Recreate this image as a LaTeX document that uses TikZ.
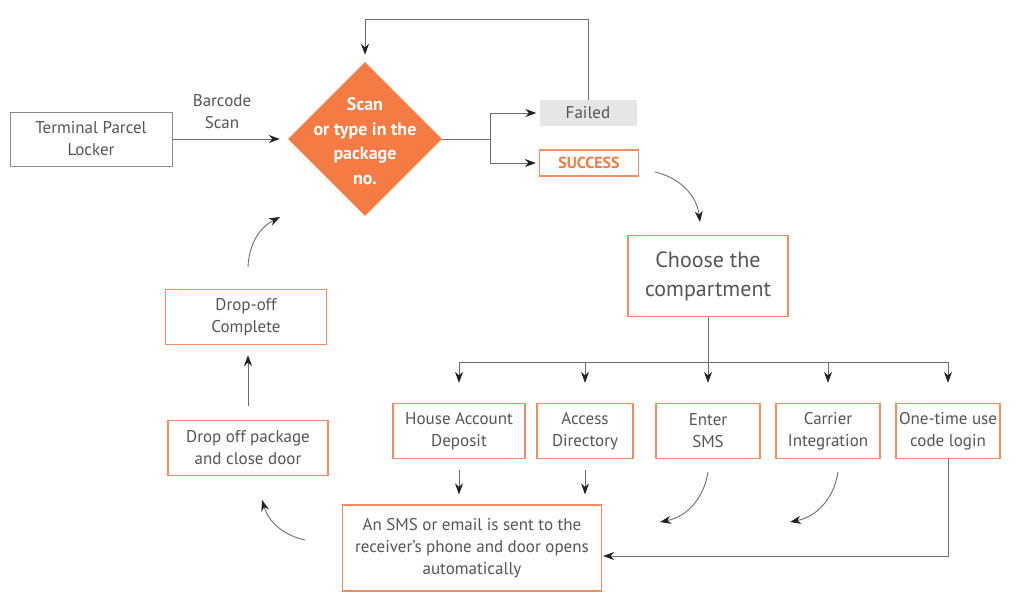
\documentclass[tikz,border=0pt]{standalone}
\usepackage{fontspec}
\setmainfont{PT Sans}
\usepackage{xcolor}
\usepackage{tikz}
\usetikzlibrary{shapes.geometric, arrows.meta, positioning, calc}
\definecolor{LockOrange}{RGB}{244,123,67}
\definecolor{LockBorder}{RGB}{245,140,102}
\definecolor{LockText}{RGB}{85,85,85}
\definecolor{LockLine}{RGB}{110,110,110}
\definecolor{LockGrey}{RGB}{230,230,231}
\definecolor{LockTip}{RGB}{34,34,34}

\tikzset{
  stepbox/.style={draw=LockBorder, line width=1.3pt, align=center, text=LockText,
    inner sep=0pt, font=\fontsize{17}{22}\selectfont},
  flow/.style={draw=LockLine, line width=0.9pt,
    -{Stealth[length=11pt, width=8pt, color=LockTip]}},
  plain/.style={draw=LockLine, line width=0.9pt},
}

\begin{document}
\begin{tikzpicture}[x=1pt,y=-1pt]
  \path[use as bounding box] (0,0) rectangle (1024,614);

  % Locker and scan step
  \node[stepbox, draw=LockLine!80, line width=1pt, minimum width=162, minimum height=54] (locker) at (91,139) {Terminal Parcel\\Locker};
  \node[align=center, text=LockText, font=\fontsize{17}{22}\selectfont] (barcode) at (222,112) {Barcode\\Scan};
  \node[diamond, fill=LockOrange, minimum width=154, minimum height=154, inner sep=0pt] (scan) at (365,139) {};
  \node[align=center, text=white, font=\bfseries\fontsize{18}{24.5}\selectfont] (scantext) at (365,141) {Scan\\or type in the\\package\\no.};
  \draw[flow, shorten >=8pt] (locker) -- (scan);

  % Result of the scan
  \node[fill=LockGrey, text=LockText, inner sep=0pt, minimum width=97, minimum height=26, font=\fontsize{17}{18}\selectfont] (failed) at (588,113) {Failed};
  \node[stepbox, text=LockOrange, minimum width=99, minimum height=26, font=\bfseries\fontsize{16}{18}\selectfont] (success) at (589,163) {SUCCESS};
  \coordinate (fork) at (490,139);
  \draw[plain] (scan.east) -- (fork);
  \draw[flow, shorten >=3pt] (fork) |- (failed.west);
  \draw[flow, shorten >=3pt] (fork) |- (success.west);
  \draw[flow, shorten >=7pt] (failed.north) -- ++(0,-80) -| (scan.north);

  % Compartment choice
  \node[stepbox, minimum width=160, minimum height=81, font=\fontsize{22}{29}\selectfont] (choose) at (708,276) {Choose the\\compartment};
  \coordinate (s1) at (655,172);
  \coordinate (s2) at (700,222);
  \draw[flow] (s1) to[bend left=35] (s2);

  \node[stepbox, minimum width=132, minimum height=55] (house) at (459,431) {House Account\\Deposit};
  \node[stepbox, minimum width=96, minimum height=55] (access) at (585,431) {Access\\Directory};
  \node[stepbox, minimum width=104, minimum height=55] (sms) at (708,431) {Enter\\SMS};
  \node[stepbox, minimum width=104, minimum height=55] (carrier) at (828,431) {Carrier\\Integration};
  \node[stepbox, minimum width=104, minimum height=55] (onetime) at (948,431) {One-time use\\code login};

  \coordinate (split) at (708,362);
  \draw[plain] (choose.south) -- (split);
  \draw[plain] (split -| house) -- (split -| onetime);
  \foreach \n in {house,access,sms,carrier,onetime}
    \draw[flow, shorten >=20pt] (split -| \n) -- (\n.north);

  % Notification
  \node[stepbox, minimum width=259, minimum height=86] (notify) at (472,548) {An SMS or email is sent to the\\receiver’s phone and door opens\\automatically};
  \draw[flow, shorten <=11pt, shorten >=10pt] (house.south) -- (house.south |- notify.north);
  \draw[flow, shorten <=11pt, shorten >=10pt] (access.south) -- (access.south |- notify.north);
  \coordinate (e1) at (708,472);
  \coordinate (e2) at (660,522);
  \draw[flow] (e1) to[bend left=35] (e2);
  \coordinate (c1) at (838,472);
  \coordinate (c2) at (790,522);
  \draw[flow] (c1) to[bend left=35] (c2);
  \draw[flow, shorten >=1pt] (onetime.south) |- ($(notify.east)+(0,8)$);

  % Drop-off loop
  \node[stepbox, minimum width=160, minimum height=55] (dropoff) at (248,448) {Drop off package\\and close door};
  \node[stepbox, minimum width=161, minimum height=55] (complete) at (246,317) {Drop-off\\Complete};
  \coordinate (n1) at (305,540);
  \coordinate (n2) at (262,500);
  \draw[flow] (n1) to[bend left=30] (n2);
  \draw[flow, shorten <=14pt, shorten >=10pt] (dropoff.north) -- (dropoff.north |- complete.south);
  \coordinate (k1) at (248,267);
  \coordinate (k2) at (280,217);
  \draw[flow] (k1) to[bend left=30] (k2);
\end{tikzpicture}
\end{document}
